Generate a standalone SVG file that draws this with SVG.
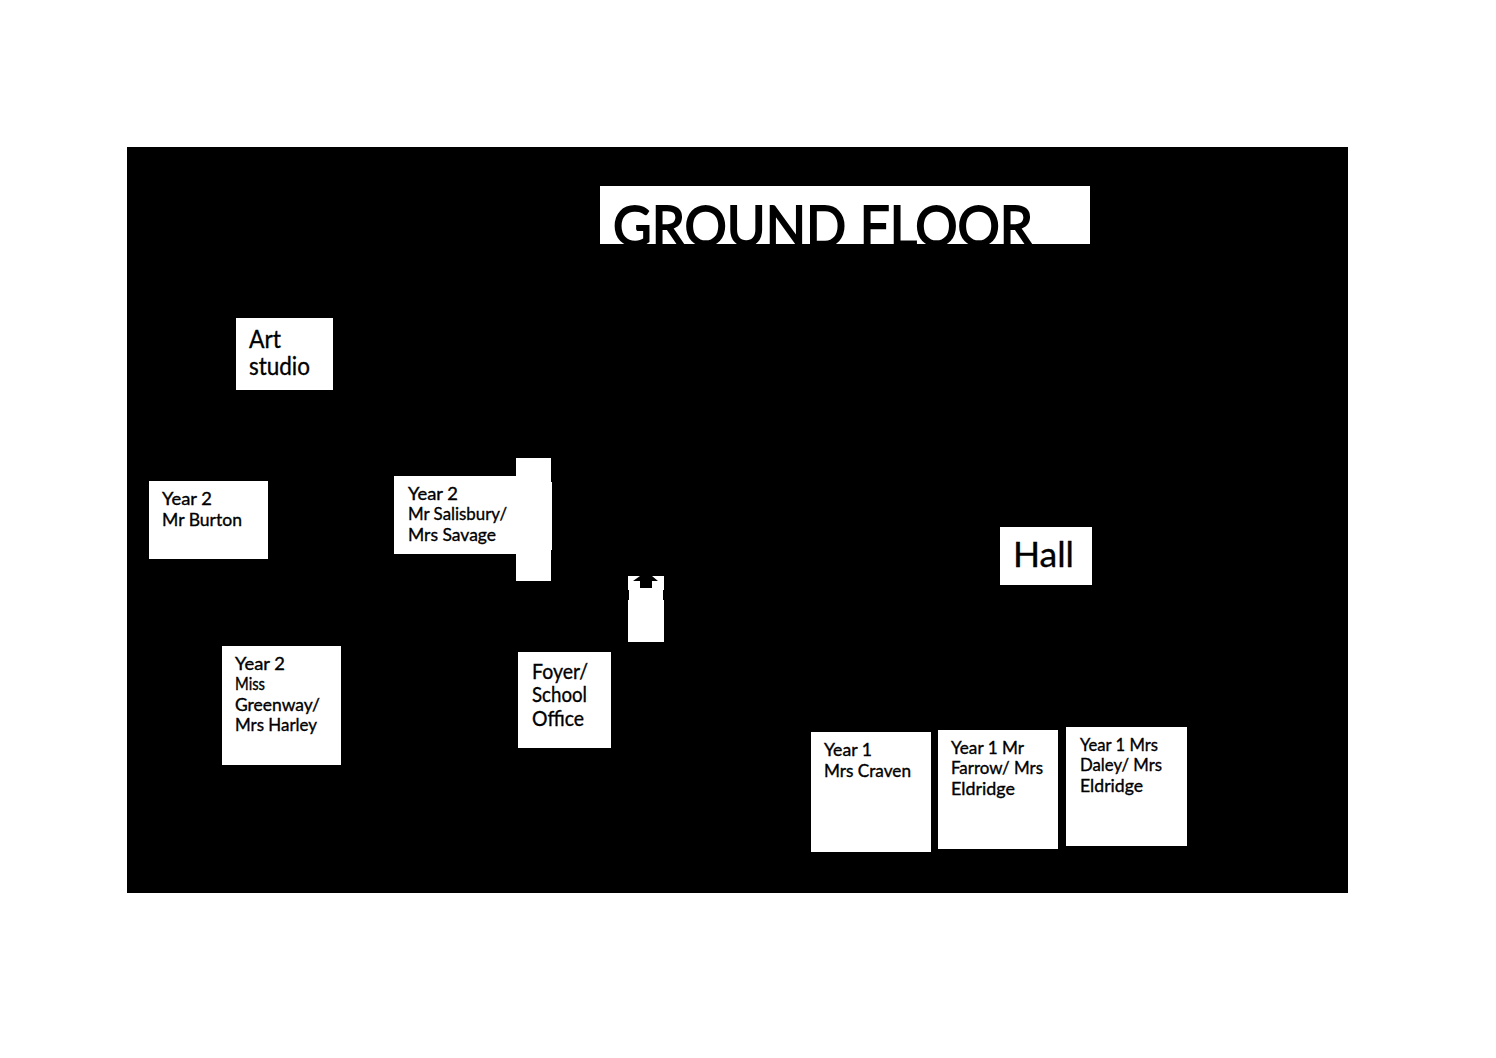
<svg xmlns="http://www.w3.org/2000/svg" width="1496" height="1058" viewBox="0 0 1496 1058">
<style>
text{font-family:"Lato","Liberation Sans",sans-serif;fill:#000;stroke:#000;stroke-width:.35px;lengthAdjust:spacingAndGlyphs}
.w{fill:#fff}
.s{font-size:17.5px}
.m{font-size:21px}
.l{font-size:24.5px}
</style>
<rect width="1496" height="1058" fill="#fff"/>
<rect x="127" y="147" width="1221" height="746" fill="#000"/>
<g id="title"><rect class="w" x="600" y="186" width="490" height="58"/>
<text x="613" y="246" font-size="56" style="stroke-width:1.8px" textLength="420" lengthAdjust="spacingAndGlyphs">GROUND FLOOR</text>
<rect x="600" y="244" width="490" height="12" fill="#000"/></g>
<g id="art"><rect class="w" x="236" y="318" width="97" height="72"/><text class="l" x="249" y="348" textLength="32" lengthAdjust="spacingAndGlyphs">Art</text><text class="l" x="249" y="375" textLength="61" lengthAdjust="spacingAndGlyphs">studio</text></g>
<g id="burton"><rect class="w" x="149" y="481" width="119" height="78"/><text class="s" x="162" y="505" textLength="50" lengthAdjust="spacingAndGlyphs">Year 2</text><text class="s" x="162" y="526" textLength="80" lengthAdjust="spacingAndGlyphs">Mr Burton</text></g>
<g id="salisbury"><polygon class="w" points="394,476 516,476 516,458 551,458 551,482 552,482 552,550 551,550 551,581 516,581 516,554 394,554"/><text class="s" x="408" y="500" textLength="50" lengthAdjust="spacingAndGlyphs">Year 2</text><text class="s" x="408" y="520" textLength="99" lengthAdjust="spacingAndGlyphs">Mr Salisbury/</text><text class="s" x="408" y="541" textLength="88" lengthAdjust="spacingAndGlyphs">Mrs Savage</text></g>
<g id="entrance"><polygon class="w" points="628,576 664,576 664,642 628,642"/><polygon points="633,581 640,576 652,576 658,581 652,581 652,588 640,588 640,581" fill="#000"/><rect x="628" y="590" width="1" height="10" fill="#000"/><rect x="663" y="590" width="1" height="10" fill="#000"/></g>
<g id="greenway"><rect class="w" x="222" y="646" width="119" height="119"/><text class="s" x="235" y="670" textLength="50" lengthAdjust="spacingAndGlyphs">Year 2</text><text class="s" x="235" y="690" textLength="30" lengthAdjust="spacingAndGlyphs">Miss</text><text class="s" x="235" y="711" textLength="85" lengthAdjust="spacingAndGlyphs">Greenway/</text><text class="s" x="235" y="731" textLength="82" lengthAdjust="spacingAndGlyphs">Mrs Harley</text></g>
<g id="foyer"><rect class="w" x="518" y="652" width="93" height="96"/><text class="m" x="532" y="679" textLength="56" lengthAdjust="spacingAndGlyphs">Foyer/</text><text class="m" x="532" y="702" textLength="55" lengthAdjust="spacingAndGlyphs">School</text><text class="m" x="532" y="726" textLength="52" lengthAdjust="spacingAndGlyphs">Office</text></g>
<g id="hall"><rect class="w" x="1000" y="527" width="92" height="58"/><text font-size="34" x="1013" y="567" textLength="61" lengthAdjust="spacingAndGlyphs">Hall</text></g>
<g id="craven"><rect class="w" x="811" y="732" width="120" height="120"/><text class="s" x="824" y="756" textLength="48" lengthAdjust="spacingAndGlyphs">Year 1</text><text class="s" x="824" y="777" textLength="87" lengthAdjust="spacingAndGlyphs">Mrs Craven</text></g>
<g id="farrow"><rect class="w" x="938" y="730" width="120" height="119"/><text class="s" x="951" y="754" textLength="73" lengthAdjust="spacingAndGlyphs">Year 1 Mr</text><text class="s" x="951" y="774" textLength="92" lengthAdjust="spacingAndGlyphs">Farrow/ Mrs</text><text class="s" x="951" y="795" textLength="64" lengthAdjust="spacingAndGlyphs">Eldridge</text></g>
<g id="daley"><rect class="w" x="1066" y="727" width="121" height="119"/><text class="s" x="1080" y="751" textLength="78" lengthAdjust="spacingAndGlyphs">Year 1 Mrs</text><text class="s" x="1080" y="771" textLength="82" lengthAdjust="spacingAndGlyphs">Daley/ Mrs</text><text class="s" x="1080" y="792" textLength="63" lengthAdjust="spacingAndGlyphs">Eldridge</text></g>
<g id="connectors"></g>
</svg>
